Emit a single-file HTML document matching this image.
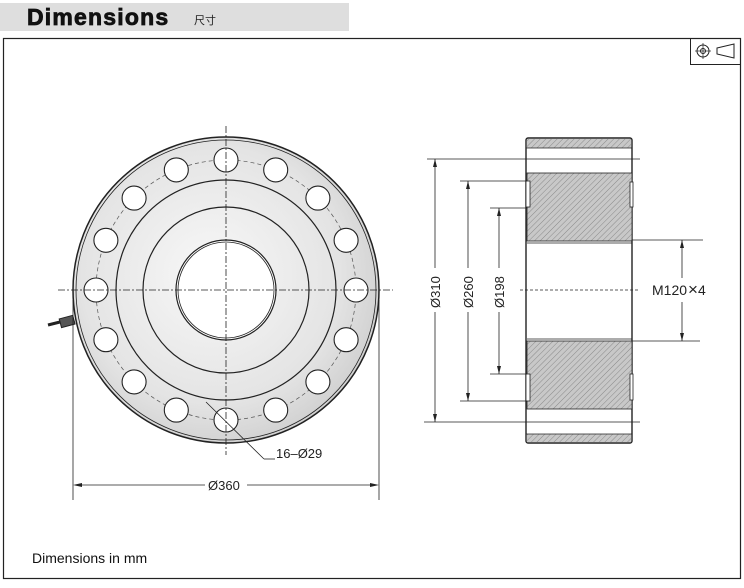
<!DOCTYPE html>
<html><head><meta charset="utf-8"><style>
html,body{margin:0;padding:0;background:#fff;}
body{width:744px;height:583px;overflow:hidden;}
</style></head><body>
<svg width="744" height="583" viewBox="0 0 744 583" xmlns="http://www.w3.org/2000/svg" font-family="Liberation Sans, Arial, sans-serif">
<defs>
<pattern id="h" width="4" height="4" patternUnits="userSpaceOnUse" patternTransform="rotate(45)">
<rect width="4" height="4" fill="#c8c8c8"/><line x1="0" y1="0" x2="0" y2="4" stroke="#8a8a8a" stroke-width="1"/>
</pattern>
<radialGradient id="g" cx="0.45" cy="0.45" r="0.6">
<stop offset="0" stop-color="#f8f8f8"/><stop offset="0.7" stop-color="#e4e4e4"/><stop offset="1" stop-color="#cdcdcd"/>
</radialGradient>
</defs>
<rect x="0" y="3" width="349" height="28" fill="#dedede"/>
<text x="27" y="25" font-size="23" font-weight="bold" fill="#111" stroke="#111" stroke-width="0.8" letter-spacing="1.2">Dimensions</text>
<text x="194" y="24" font-size="11" fill="#222" font-family="Liberation Sans, Noto Sans CJK SC, sans-serif">尺寸</text>
<rect x="3.5" y="38.5" width="737" height="540" fill="none" stroke="#222" stroke-width="1.2"/>
<!-- icon -->
<rect x="690.5" y="38.5" width="50" height="26" fill="none" stroke="#222"/>
<circle cx="703" cy="51" r="6" fill="none" stroke="#222"/><circle cx="703" cy="51" r="2.5" fill="none" stroke="#222"/>
<line x1="695" y1="51" x2="711" y2="51" stroke="#222" stroke-width="0.7"/><line x1="703" y1="43" x2="703" y2="59" stroke="#222" stroke-width="0.7"/>
<polygon points="717,48 734,44 734,58 717,54" fill="none" stroke="#222"/>
<!-- front view -->
<g stroke="#222" fill="none">
<circle cx="226" cy="290" r="153" fill="url(#g)" stroke-width="1.5"/>
<circle cx="226" cy="290" r="150" stroke-width="0.8"/>
<circle cx="226" cy="290" r="130" stroke="#555" stroke-width="0.7" stroke-dasharray="4,3"/>
<circle cx="226" cy="290" r="110" stroke-width="1.2"/>
<circle cx="226" cy="290" r="83" stroke-width="1.2"/>
<circle cx="226" cy="290" r="50" fill="#fff" stroke-width="1.2"/>
<circle cx="226" cy="290" r="48" stroke-width="0.8"/>
</g>
<g fill="#fff" stroke="#222" stroke-width="1.1">
<circle cx="356" cy="290" r="12"/><circle cx="346.1" cy="339.7" r="12"/><circle cx="317.9" cy="381.9" r="12"/><circle cx="275.7" cy="410.1" r="12"/>
<circle cx="226" cy="420" r="12"/><circle cx="176.3" cy="410.1" r="12"/><circle cx="134.1" cy="381.9" r="12"/><circle cx="105.9" cy="339.7" r="12"/>
<circle cx="96" cy="290" r="12"/><circle cx="105.9" cy="240.3" r="12"/><circle cx="134.1" cy="198.1" r="12"/><circle cx="176.3" cy="169.9" r="12"/>
<circle cx="226" cy="160" r="12"/><circle cx="275.7" cy="169.9" r="12"/><circle cx="317.9" cy="198.1" r="12"/><circle cx="346.1" cy="240.3" r="12"/>
</g>
<g stroke="#222" stroke-width="0.8" stroke-dasharray="7,2,2,2">
<line x1="226" y1="126" x2="226" y2="455"/><line x1="58" y1="290" x2="393" y2="290"/>
</g>
<!-- connector -->
<rect x="60" y="317" width="14" height="9" fill="#555" stroke="#222" transform="rotate(-15 67 321)"/>
<line x1="48" y1="325" x2="60" y2="322" stroke="#222" stroke-width="3"/>
<!-- 16-Ø29 leader -->
<line x1="206" y1="402" x2="264" y2="459" stroke="#222" stroke-width="0.8"/>
<line x1="264" y1="459" x2="275" y2="459" stroke="#222" stroke-width="0.8"/>
<text x="276" y="458" font-size="13" fill="#222">16–Ø29</text>
<!-- Ø360 -->
<g stroke="#222" stroke-width="0.8">
<line x1="73" y1="300" x2="73" y2="500"/><line x1="379" y1="300" x2="379" y2="500"/>
<line x1="75" y1="485" x2="205" y2="485"/><line x1="247" y1="485" x2="377" y2="485"/>
</g>
<polygon points="73,485 82,483 82,487" fill="#222"/><polygon points="379,485 370,483 370,487" fill="#222"/>
<text x="208" y="490" font-size="13" fill="#222">Ø360</text>
<!-- side view -->
<g stroke="#222">
<rect x="526" y="138" width="106" height="305" rx="2" fill="#fff" stroke-width="1.4"/>
<rect x="527" y="139" width="104" height="9" fill="url(#h)" stroke="none"/>
<rect x="527" y="434" width="104" height="8" fill="url(#h)" stroke="none"/>
<line x1="526" y1="148" x2="632" y2="148" stroke-width="0.8"/>
<line x1="526" y1="434" x2="632" y2="434" stroke-width="0.8"/>
<rect x="527" y="173" width="105" height="68" fill="url(#h)" stroke-width="0.8"/>
<rect x="527" y="341" width="105" height="68" fill="url(#h)" stroke-width="0.8"/>
<line x1="527" y1="243" x2="632" y2="243" stroke-width="0.8"/>
<line x1="527" y1="339" x2="632" y2="339" stroke-width="0.8"/>
<rect x="526" y="181" width="4" height="26" fill="#fff" stroke-width="0.8"/>
<rect x="526" y="374" width="4" height="27" fill="#fff" stroke-width="0.8"/>
<rect x="630" y="182" width="3" height="25" fill="#fff" stroke-width="0.8"/>
<rect x="630" y="374" width="3" height="26" fill="#fff" stroke-width="0.8"/>
</g>
<g stroke="#222" stroke-width="0.8">
<line x1="427" y1="159" x2="640" y2="159"/><line x1="424" y1="422" x2="640" y2="422"/>
<line x1="460" y1="181" x2="527" y2="181"/><line x1="460" y1="401" x2="527" y2="401"/>
<line x1="490" y1="208" x2="527" y2="208"/><line x1="490" y1="374" x2="527" y2="374"/>
<line x1="632" y1="240" x2="703" y2="240"/><line x1="632" y1="341" x2="700" y2="341"/>
<line x1="435" y1="159" x2="435" y2="268"/><line x1="435" y1="312" x2="435" y2="422"/>
<line x1="468" y1="181" x2="468" y2="268"/><line x1="468" y1="312" x2="468" y2="401"/>
<line x1="499" y1="208" x2="499" y2="268"/><line x1="499" y1="312" x2="499" y2="374"/>
<line x1="682" y1="240" x2="682" y2="278"/><line x1="682" y1="302" x2="682" y2="341"/>
</g>
<g stroke="#222" stroke-width="0.8" stroke-dasharray="3,2">
<line x1="520" y1="290" x2="640" y2="290"/>
</g>
<g fill="#222">
<polygon points="435,159 433,167 437,167"/><polygon points="435,422 433,414 437,414"/>
<polygon points="468,181 466,189 470,189"/><polygon points="468,401 466,393 470,393"/>
<polygon points="499,208 497,216 501,216"/><polygon points="499,374 497,366 501,366"/>
<polygon points="682,240 680,248 684,248"/><polygon points="682,341 680,333 684,333"/>
</g>
<g font-size="13" fill="#222">
<text transform="translate(440,308) rotate(-90)">Ø310</text>
<text transform="translate(473,308) rotate(-90)">Ø260</text>
<text transform="translate(504,308) rotate(-90)">Ø198</text>
<text x="652" y="295" font-size="14">M120<tspan font-size="17" dx="1">×</tspan>4</text>
</g>
<text x="32" y="563" font-size="14" fill="#111">Dimensions in mm</text>
</svg>
</body></html>
